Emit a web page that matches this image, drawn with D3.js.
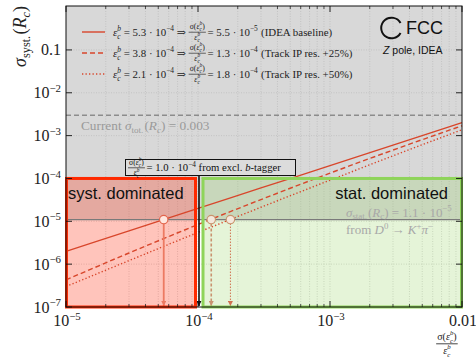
<!DOCTYPE html>
<html><head><meta charset="utf-8">
<script src="https://cdn.jsdelivr.net/npm/d3@7"></script>
<style>body{margin:0;background:#fff} svg{display:block} text{white-space:pre}</style>
</head><body><svg id="c" width="476" height="360"></svg>
<script>
// ---------------- data ----------------
const xGrid      = [1e-5, 3e-5, 1e-4, 3e-4, 1e-3, 3e-3, 1e-2];
const solidVals  = [2.0e-6, 6.0e-6, 2.0e-5, 6.0e-5, 2.0e-4, 6.0e-4, 2.0e-3];
const dashedVals = [4.3e-7, 1.82e-6, 8.4e-6, 3.22e-5, 1.33e-4, 4.6e-4, 1.7e-3];
const dottedVals = [3.0e-7, 1.21e-6, 5.5e-6, 2.13e-5, 9.1e-5, 3.37e-4, 1.37e-3];
const scenarioEff    = ["5.3", "3.8", "2.1"];
const scenarioRes    = ["5.5", "1.3", "1.8"];
const scenarioResExp = ["−5", "−4", "−4"];
const scenarioNote   = ["(IDEA baseline)", "(Track IP res. +25%)", "(Track IP res. +50%)"];
const crossX   = [5.5e-5, 1.26e-4, 1.76e-4];
const statUnc  = 1.1e-5;
const currentTot = 0.003;
const btagLimit  = 1.0e-4;
const boxTop = 1.0e-4;
const yTickVals   = [1e-7, 1e-6, 1e-5, 1e-4, 1e-3, 1e-2, 1e-1];
const yTickLabels = [["10","−7"],["10","−6"],["10","−5"],["10","−4"],["10","−3"],["10","−2"],["0.1",null]];
const xTickVals   = [1e-5, 1e-4, 1e-3, 1e-2];
const xTickLabels = [["10","−5"],["10","−4"],["10","−3"],["0.01",null]];
const xDomain = [1e-5, 1e-2];
const yDomain = [1e-7, 1.06];

// ---------------- setup ----------------
const svg = d3.select("#c");
const L = 66, R = 462, T = 6, B = 307;
const x = d3.scaleLog().domain(xDomain).range([L, R]);
const y = d3.scaleLog().domain(yDomain).range([B, T]);
const SERIF = "'Liberation Serif', 'DejaVu Serif', serif";
const SANS = "'Liberation Sans', Arial, sans-serif";
const lineCol = "#d8462b";

// math-ish text layout
function layout(g, tokens, x0, y0, fs, color) {
  let cx = x0;
  tokens.forEach(tok => {
    if (tok.frac) {
      const f = fs * 0.72;
      const ng = g.append("g"), dg = g.append("g");
      const wN = layout(ng, tok.frac[0], 0, 0, f, color);
      const wD = layout(dg, tok.frac[1], 0, 0, f, color);
      const w = Math.max(wN, wD) + 2;
      const bar = y0 - fs * 0.3;
      ng.attr("transform", `translate(${cx + 1 + (w - 2 - wN) / 2},${bar - fs * 0.3})`);
      dg.attr("transform", `translate(${cx + 1 + (w - 2 - wD) / 2},${bar + fs * 0.72})`);
      g.append("line").attr("x1", cx).attr("x2", cx + w).attr("y1", bar).attr("y2", bar)
        .attr("stroke", color).attr("stroke-width", Math.max(0.6, fs * 0.06));
      cx += w + fs * 0.15;
      return;
    }
    const t = g.append("text").attr("x", cx).attr("y", y0).attr("font-size", fs)
      .attr("font-family", tok.sans ? SANS : SERIF).attr("fill", color)
      .attr("font-style", tok.it ? "italic" : "normal").text(tok.t);
    cx += t.node().getComputedTextLength();
    if (tok.sp) cx += tok.sp * fs;
    let wS = 0;
    const both = tok.sup != null && tok.sub != null;
    if (tok.sup != null) {
      const s = g.append("text").attr("x", cx).attr("y", y0 - fs * (both ? 0.46 : 0.4)).attr("font-size", fs * 0.68)
        .attr("font-family", SERIF).attr("fill", color)
        .attr("font-style", tok.supIt ? "italic" : "normal").text(tok.sup);
      wS = Math.max(wS, s.node().getComputedTextLength());
    }
    if (tok.sub != null) {
      const s = g.append("text").attr("x", cx).attr("y", y0 + fs * (both ? 0.3 : 0.22)).attr("font-size", fs * 0.68)
        .attr("font-family", SERIF).attr("fill", color)
        .attr("font-style", tok.subIt ? "italic" : "normal").text(tok.sub);
      wS = Math.max(wS, s.node().getComputedTextLength());
    }
    cx += wS;
    if (tok.after) cx += tok.after * fs;
  });
  return cx - x0;
}
function mathText(parent, tokens, px, py, fs, color, anchor) {
  const g = parent.append("g");
  const w = layout(g, tokens, 0, 0, fs, color);
  const dx = anchor === "end" ? -w : anchor === "middle" ? -w / 2 : 0;
  g.attr("transform", `translate(${px + dx},${py})`);
  return w;
}
const epsTok = () => ({t: "ε", it: true, sup: "b", supIt: true, sub: "c", subIt: true});
const ratioFrac = () => ({frac: [[{t: "σ("}, epsTok(), {t: ")"}], [epsTok()]]});

// ---------------- background ----------------
svg.append("rect").attr("x", L).attr("y", T).attr("width", R - L).attr("height", y(statUnc) - T)
  .attr("fill", "#d8d8d8");
svg.append("rect").attr("x", L).attr("y", y(statUnc)).attr("width", R - L).attr("height", B - y(statUnc))
  .attr("fill", "#ffffff");

// grid
const grid = svg.append("g").attr("stroke", "#a8a8a8").attr("stroke-width", 0.6)
  .attr("stroke-dasharray", "1,1.5").attr("opacity", 0.7);
const xMinor = [];
for (let e = -5; e < -2; e++) for (let m = 1; m <= 9; m++) xMinor.push(m * Math.pow(10, e));
xMinor.push(1e-2);
grid.selectAll("line.v").data(xMinor.filter(v => v > 1e-5 && v < 1e-2)).join("line")
  .attr("x1", d => x(d)).attr("x2", d => x(d)).attr("y1", T).attr("y2", B);
grid.selectAll("line.h").data(yTickVals.slice(1)).join("line")
  .attr("x1", L).attr("x2", R).attr("y1", d => y(d)).attr("y2", d => y(d));

// region boxes (fills)
const redX0 = x(1e-5), redX1 = 196, grnX0 = 203, grnX1 = x(1e-2);
svg.append("rect").attr("x", redX0).attr("y", y(boxTop)).attr("width", redX1 - redX0)
  .attr("height", B - y(boxTop)).attr("fill", "rgb(255,60,30)").attr("fill-opacity", 0.3);
svg.append("rect").attr("x", grnX0).attr("y", y(boxTop)).attr("width", grnX1 - grnX0)
  .attr("height", B - y(boxTop)).attr("fill", "rgb(150,210,100)").attr("fill-opacity", 0.25);

// current total line
svg.append("line").attr("x1", L).attr("x2", R).attr("y1", y(currentTot)).attr("y2", y(currentTot))
  .attr("stroke", "#8c8c8c").attr("stroke-width", 1.4).attr("stroke-dasharray", "5,3");
mathText(svg, [{t: "Current "}, {t: "σ", it: true, sub: "tot.", after: 0.08}, {t: "("}, {t: "R", it: true, sub: "c", subIt: true}, {t: ") = 0.003"}],
  81, 130, 13.3, "#9a9a9a", "start");

// stat line
svg.append("line").attr("x1", L).attr("x2", R).attr("y1", y(statUnc)).attr("y2", y(statUnc))
  .attr("stroke", "#7a7a7a").attr("stroke-width", 1.2);

// arrows markers
const defs = svg.append("defs");
function marker(id, col) {
  defs.append("marker").attr("id", id).attr("viewBox", "0 0 10 10").attr("refX", 10).attr("refY", 5)
    .attr("markerWidth", 5).attr("markerHeight", 5).attr("orient", "auto").attr("markerUnits", "userSpaceOnUse")
    .append("path").attr("d", "M0,0 L10,5 L0,10 z").attr("fill", col);
}
const arrowCols = ["#ec7a62", "#c99370", "#cf7150"];
arrowCols.forEach((c, i) => marker("m" + i, c));
marker("mk", "#111");

// series lines
const lineGen = d3.line().x(d => x(d[0])).y(d => y(d[1])).curve(d3.curveMonotoneX);
const series = [
  {vals: solidVals, dash: null, w: 1.3},
  {vals: dashedVals, dash: "5,3", w: 1.4},
  {vals: dottedVals, dash: "1.3,2.2", w: 1.4}
];
series.forEach(s => {
  svg.append("path").datum(xGrid.map((v, i) => [v, s.vals[i]])).attr("d", lineGen)
    .attr("fill", "none").attr("stroke", lineCol).attr("stroke-width", s.w)
    .attr("stroke-dasharray", s.dash);
});

// vertical arrows from crossings
const arrowStyle = [
  {w: 1.8, dash: null},
  {w: 1.6, dash: "3,2"},
  {w: 1.0, dash: "1.5,1.5"}
];
crossX.forEach((cx, i) => {
  svg.append("line").attr("x1", x(cx)).attr("x2", x(cx)).attr("y1", y(statUnc) + 4).attr("y2", B - 1)
    .attr("stroke", arrowCols[i]).attr("stroke-width", arrowStyle[i].w)
    .attr("stroke-dasharray", arrowStyle[i].dash).attr("marker-end", `url(#m${i})`);
});
// b-tagger line
svg.append("line").attr("x1", x(btagLimit) + 1).attr("x2", x(btagLimit) + 1).attr("y1", 175.5).attr("y2", B - 1)
  .attr("stroke", "#111").attr("stroke-width", 1.6).attr("marker-end", "url(#mk)");

// crossing circles
svg.selectAll("circle.cr").data(crossX).join("circle")
  .attr("cx", d => x(d)).attr("cy", y(statUnc)).attr("r", 4.2)
  .attr("fill", (d, i) => i === 0 ? "#ffe6de" : "#f4e8dc")
  .attr("stroke", (d, i) => i === 0 ? "#e2654c" : "#c9946c").attr("stroke-width", 1.1);

// region box borders
svg.append("rect").attr("x", redX0 + 0.5).attr("y", y(boxTop)).attr("width", redX1 - redX0 - 1)
  .attr("height", B - y(boxTop)).attr("fill", "none").attr("stroke", "#ff2a00").attr("stroke-width", 3);
svg.append("rect").attr("x", grnX0).attr("y", y(boxTop)).attr("width", grnX1 - grnX0 - 0.5)
  .attr("height", B - y(boxTop)).attr("fill", "none").attr("stroke", "#8fd45a").attr("stroke-width", 3);

// region labels
svg.append("text").attr("x", 68).attr("y", 199).attr("font-family", SANS).attr("font-size", 16.5)
  .attr("fill", "#111").text("syst. dominated");
svg.append("text").attr("x", 448).attr("y", 199).attr("font-family", SANS).attr("font-size", 16.5)
  .attr("fill", "#111").attr("text-anchor", "end").text("stat. dominated");
mathText(svg, [{t: "σ", it: true, sub: "stat.", after: 0.08}, {t: "("}, {t: "R", it: true, sub: "c", subIt: true}, {t: ") = 1.1 · 10", sup: "−5"}],
  346, 216.5, 13, "#a8a8a8", "start");
mathText(svg, [{t: "from "}, {t: "D", it: true, sup: "0", after: 0.25}, {t: "→ "}, {t: "K", it: true, sup: "+"}, {t: "π", it: true, sup: "−"}],
  346, 234, 13, "#a8a8a8", "start");

// b-tagger annotation box
const annG = svg.append("g");
annG.append("rect").attr("x", 125.5).attr("y", 159.5).attr("width", 170).attr("height", 16)
  .attr("fill", "#dcdcdc").attr("stroke", "#111").attr("stroke-width", 1);
mathText(annG, [ratioFrac(), {t: "= 1.0 · 10", sup: "−4", after: 0.25}, {t: "from excl. "}, {t: "b", it: true}, {t: "-tagger"}],
  128, 171, 10.7, "#111", "start");

// ---------------- axes ----------------
const ax = svg.append("g").attr("stroke", "#111").attr("stroke-width", 0.9);
const xMinorOnly = xMinor.filter(v => !xTickVals.some(t => Math.abs(t - v) / v < 1e-6));
xTickVals.forEach(v => {
  ax.append("line").attr("x1", x(v)).attr("x2", x(v)).attr("y1", B).attr("y2", B - 6);
  ax.append("line").attr("x1", x(v)).attr("x2", x(v)).attr("y1", T).attr("y2", T + 6);
});
xMinorOnly.forEach(v => {
  ax.append("line").attr("x1", x(v)).attr("x2", x(v)).attr("y1", B).attr("y2", B - 3).attr("stroke-width", 0.7);
  ax.append("line").attr("x1", x(v)).attr("x2", x(v)).attr("y1", T).attr("y2", T + 3).attr("stroke-width", 0.7);
});
yTickVals.forEach(v => {
  ax.append("line").attr("x1", L).attr("x2", L + 6).attr("y1", y(v)).attr("y2", y(v));
  ax.append("line").attr("x1", R).attr("x2", R - 6).attr("y1", y(v)).attr("y2", y(v));
});
svg.append("rect").attr("x", L).attr("y", T).attr("width", R - L).attr("height", B - T)
  .attr("fill", "none").attr("stroke", "#111").attr("stroke-width", 1);

// tick labels
const TFS = 16;
yTickVals.forEach((v, i) => {
  const lab = yTickLabels[i];
  mathText(svg, [lab[1] ? {t: lab[0], sup: lab[1]} : {t: lab[0]}], 61, y(v) + 5.5, TFS, "#222", "end");
});
xTickVals.forEach((v, i) => {
  const lab = xTickLabels[i];
  mathText(svg, [lab[1] ? {t: lab[0], sup: lab[1]} : {t: lab[0]}], x(v) + 1, 326, TFS, "#222", "middle");
});

// axis titles
const yl = svg.append("g").attr("transform", "translate(26,6) rotate(-90)");
mathText(yl, [{t: "σ", it: true, sub: "syst.", after: 0.08}, {t: "("}, {t: "R", it: true, sub: "c", subIt: true}, {t: ")"}],
  0, 0, 18, "#222", "end");
mathText(svg, [ratioFrac()], 448, 348, 14, "#222", "middle");

// ---------------- legend ----------------
const legY = [35.5, 56.5, 77.5];
const legDash = [null, "5,3", "1.3,2.2"];
legY.forEach((ly, i) => {
  svg.append("line").attr("x1", 82).attr("x2", 105).attr("y1", ly - 3.5).attr("y2", ly - 3.5)
    .attr("stroke", lineCol).attr("stroke-width", 1.4).attr("stroke-dasharray", legDash[i]);
  mathText(svg, [epsTok(), {t: " = " + scenarioEff[i] + " · 10", sup: "−4", after: 0.25}, {t: "⇒ "}, ratioFrac(),
    {t: "= " + scenarioRes[i] + " · 10", sup: scenarioResExp[i], after: 0.3}, {t: scenarioNote[i]}],
    113, ly, 10.9, "#222", "start");
});

// ---------------- FCC logo ----------------
svg.append("path").attr("transform", "translate(391.5,28)")
  .attr("d", d3.arc().innerRadius(9.3).outerRadius(11.3).startAngle(Math.PI / 2 + 0.5).endAngle(Math.PI / 2 + 2 * Math.PI - 0.5)())
  .attr("fill", "#111");
svg.append("text").attr("x", 406).attr("y", 34).attr("font-family", SANS).attr("font-size", 18)
  .attr("fill", "#111").text("FCC");
const zt = svg.append("text").attr("x", 383).attr("y", 54).attr("font-family", SANS).attr("font-size", 10.5).attr("fill", "#111");
zt.append("tspan").attr("font-style", "italic").text("Z");
zt.append("tspan").text(" pole, IDEA");
</script></body></html>
